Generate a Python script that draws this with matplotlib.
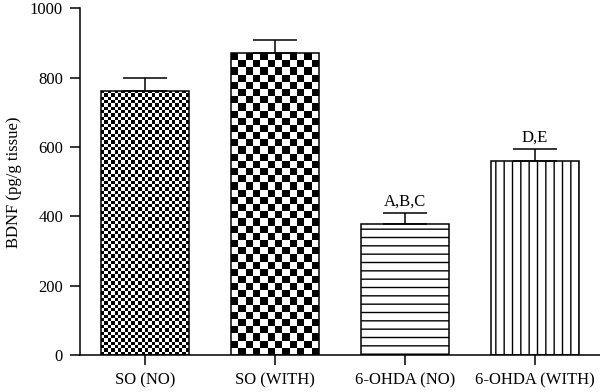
import numpy as np
import matplotlib
matplotlib.use("Agg")
import matplotlib.pyplot as plt

categories = ["SO (NO)", "SO (WITH)", "6-OHDA (NO)", "6-OHDA (WITH)"]
means = [762, 871, 378, 561]
sems = [37, 37, 32, 33]
annotations = ["", "", "A,B,C", "D,E"]
yticks = [0, 200, 400, 600, 800, 1000]

plt.rcParams['font.family'] = ['Liberation Serif', 'DejaVu Serif']
plt.rcParams['font.size'] = 12
plt.rcParams['hatch.linewidth'] = 1.0

fig = plt.figure(figsize=(6.0, 3.92), dpi=100)
ax = fig.add_axes([80/600, 1-355/392, 520/600, (355-8.5)/392])

x = np.arange(len(categories))
styles = [dict(kind="checker", cell=3.35), dict(kind="checker", cell=7.2),
          dict(kind="hatch", hatch="--"), dict(kind="hatch", hatch="||")]

bars = ax.bar(x, means, width=0.67, color="white", edgecolor="black", linewidth=1.1, zorder=2)
ax.set_xlim(-0.5, 3.5)
ax.set_ylim(0, 1000)

fig.canvas.draw()
for b, st in zip(bars, styles):
    if st["kind"] == "hatch":
        b.set_hatch(st["hatch"])
    else:
        b.set_facecolor("none")
        bb = b.get_window_extent()
        nx = max(1, int(round(bb.width / st["cell"])))
        ny = max(1, int(round(bb.height / st["cell"])))
        arr = (np.add.outer(np.arange(ny), np.arange(nx)) % 2).astype(float)
        im = ax.imshow(arr, cmap="gray", vmin=0, vmax=1, interpolation="nearest",
                       extent=(b.get_x(), b.get_x() + b.get_width(), 0, b.get_height()),
                       origin="upper", aspect="auto", zorder=1.5)
        im.set_clip_path(b)
ax.set_xlim(-0.5, 3.5)
ax.set_ylim(0, 1000)

ax.errorbar(x, means, yerr=[np.zeros(len(means)), sems], fmt="none", ecolor="black",
            elinewidth=1.1, capsize=15.5, capthick=1.1, zorder=3)

for xi, m, s, t in zip(x, means, sems, annotations):
    if t:
        ax.annotate(t, (xi, m + s), xytext=(0, 2.5), textcoords="offset points",
                    ha="center", va="bottom")

ax.set_xticks(x)
ax.set_xticklabels(categories)
ax.set_yticks(yticks)
ax.set_ylabel("BDNF (pg/g tissue)", labelpad=6)
for s in ["top", "right"]:
    ax.spines[s].set_visible(False)
for s in ["left", "bottom"]:
    ax.spines[s].set_linewidth(1.1)
ax.tick_params(direction="out", length=7.2, width=1.1, pad=5)

fig.savefig("out.png", dpi=100)
